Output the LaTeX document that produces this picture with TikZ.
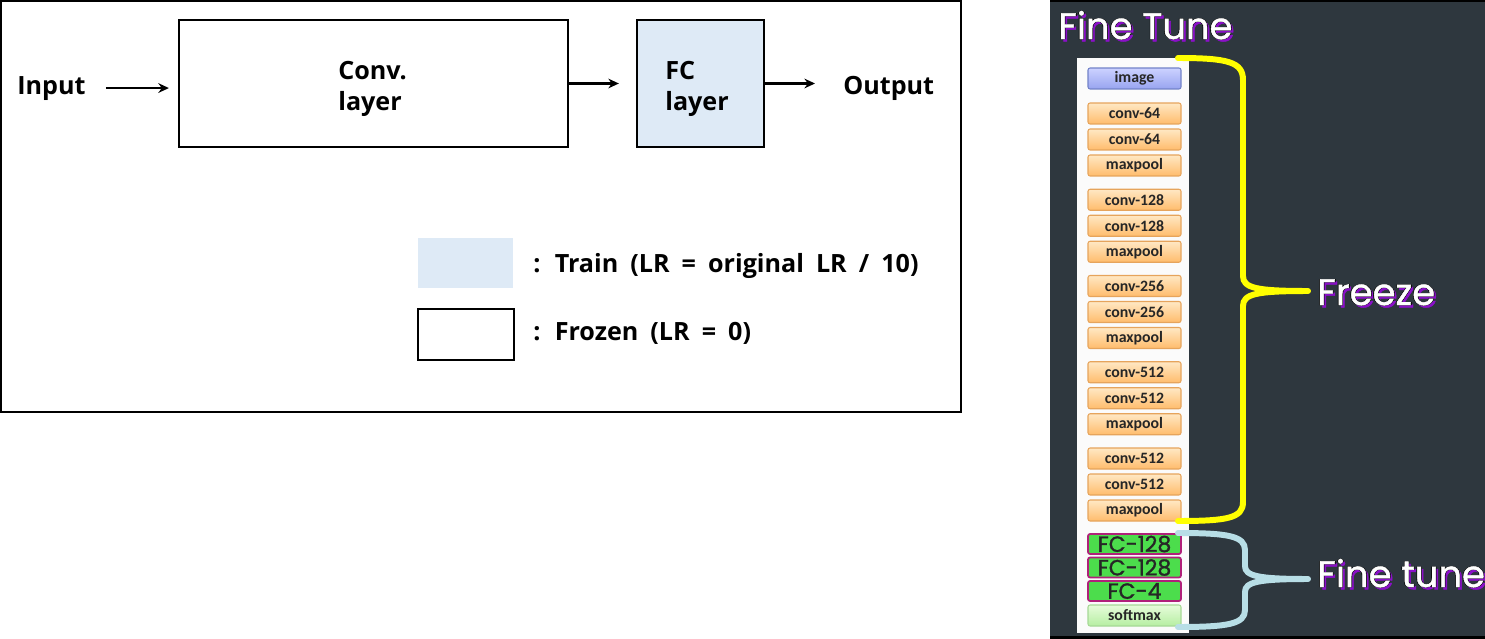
\documentclass[tikz,border=0pt]{standalone}
\usepackage{xcolor}
\usepackage{fontspec}
\setmainfont{Open Sans}[WordSpace=1.85]
\newfontfamily\gothicfont{Poppins}[FakeBold=1.2]
\newfontfamily\fcfont{Poppins}[FakeBold=1.4]
\newfontfamily\stackfont{Carlito}
\usepackage{tikz}
\usetikzlibrary{positioning, arrows.meta}

\definecolor{trainblue}{HTML}{DEEAF6}
\definecolor{panelgray}{HTML}{2E373E}
\definecolor{convtop}{HTML}{FFE8C4}
\definecolor{convbot}{HTML}{FFBC6C}
\definecolor{convedge}{HTML}{E6A45C}
\definecolor{imgtop}{HTML}{CCD2FF}
\definecolor{imgbot}{HTML}{98A4F0}
\definecolor{imgedge}{HTML}{7282C8}
\definecolor{fcgreen}{HTML}{4CDD4C}
\definecolor{fcedge}{HTML}{B0207A}
\definecolor{softtop}{HTML}{E6FCDA}
\definecolor{softbot}{HTML}{B6EEA2}
\definecolor{softedge}{HTML}{A6D896}
\definecolor{freezeyellow}{HTML}{FFFF00}
\definecolor{tuneblue}{HTML}{B8DEE6}
\definecolor{glowpurple}{HTML}{8A10C8}

\newcommand{\glowtext}[1]{%
  \rlap{\kern1.3pt\raisebox{-1.3pt}{\color{glowpurple}#1}}%
  \rlap{\kern-0.35pt\color{black}#1}\rlap{\kern0.35pt\color{black}#1}%
  {\color{white}#1}}

\begin{document}
\begin{tikzpicture}[
  x=0.02cm, y=-0.02cm,
  layer/.style={rectangle, draw, line width=1.3pt, inner sep=0pt},
  lbl/.style={font=\bfseries\fontsize{14.3}{17.6}\selectfont,
              inner sep=0pt, anchor=base west, align=left},
  flow/.style={-{Stealth[length=6pt,width=5.5pt]}, line width=1.5pt},
  stack/.style={rectangle, rounded corners=1.2pt, minimum width=1.86cm,
                minimum height=0.42cm, inner sep=0pt, line width=0.6pt,
                font=\stackfont\bfseries\fontsize{9}{10}\selectfont,
                text=black!85},
  convbox/.style={stack, draw=convedge, top color=convtop, bottom color=convbot},
  imgbox/.style={stack, draw=imgedge, top color=imgtop, bottom color=imgbot},
  fcbox/.style={stack, draw=fcedge, line width=1pt, fill=fcgreen,
                minimum height=0.4cm, text=black!85,
                font=\fcfont\fontsize{12.5}{13}\selectfont},
  softbox/.style={stack, draw=softedge, top color=softtop, bottom color=softbot},
  brace/.style={line width=3.4pt, line cap=round, line join=round},
  bigword/.style={font=\gothicfont\fontsize{21}{24}\selectfont,
                  inner sep=0pt, anchor=base west}
]
\useasboundingbox (0,0) rectangle (1485,639);

% left: transfer scheme
\draw[line width=1.3pt] (1,1) rectangle (961,412);
\node[layer, minimum width=7.78cm, minimum height=2.54cm] (conv) at (373.5,83.5) {};
\node[layer, fill=trainblue, minimum width=2.54cm, minimum height=2.54cm] (fc) at (700.5,83.5) {};
\node[lbl] (convtxt) at (338,110) {Conv.\\layer};
\node[lbl] (fctxt) at (665,110) {FC\\layer};
\node[lbl] (input) at (17,94) {Input};
\node[lbl] (output) at (843,94) {Output};

\draw[flow, shorten <=0.4cm, shorten >=0.18cm] (input.east) -- (input.east -| conv.west);
\draw[flow, shorten >=0.34cm] (conv.east) -- (fc.west);
\draw[flow, shorten >=0.56cm] (fc.east) -- (fc.east -| output.west);

\node[fill=trainblue, inner sep=0pt, minimum width=1.9cm, minimum height=1cm] (trainkey) at (465.5,263) {};
\node[draw, line width=0.7pt, inner sep=0pt, minimum width=1.92cm, minimum height=1.02cm] (frozenkey) at (466,334.5) {};
\node[lbl] (trainlbl) at (533,272) {: Train (LR = original LR / 10)};
\node[lbl] (frozenlbl) at (533,340) {: Frozen (LR = 0)};

% right: network stack
\fill[black] (1050,0) rectangle (1485,639);
\fill[panelgray] (1050,2.5) rectangle (1485,635.5);
\fill[white!97!gray] (1077,58) rectangle (1189,633);

\node[imgbox] (img) at (1134.5,78.5) {image};
\foreach \g/\ch in {0/64,1/128,2/256,3/512,4/512}{
  \node[convbox] (conv\g a) at (1134.5,{113.5+86.25*\g}) {conv-\ch};
  \node[convbox] (conv\g b) at (1134.5,{139.5+86.25*\g}) {conv-\ch};
  \node[convbox] (pool\g) at (1134.5,{165.5+86.25*\g}) {maxpool};
}
\node[fcbox] (fca) at (1134.5,544) {FC-128};
\node[fcbox] (fcb) at (1134.5,567.5) {FC-128};
\node[fcbox] (fcc) at (1134.5,591) {FC-4};
\node[softbox] (soft) at (1134.5,615.5) {softmax};

\coordinate (freezetip) at (1308,291);
\coordinate (tunetip) at (1308,579);
\draw[brace, freezeyellow] (1178,58) .. controls (1228,58) and (1243,62) .. (1243,80)
  -- (1243,276) .. controls (1243,288) and (1256,291) .. (freezetip)
  .. controls (1256,291) and (1243,294) .. (1243,306)
  -- (1243,502) .. controls (1243,518) and (1228,521) .. (1178,521);
\draw[brace, tuneblue] (1178,533) .. controls (1228,533) and (1245,536) .. (1245,550)
  -- (1245,566) .. controls (1245,576) and (1258,579) .. (tunetip)
  .. controls (1258,579) and (1245,582) .. (1245,592)
  -- (1245,610) .. controls (1245,624) and (1228,627) .. (1178,627);

\node[bigword] (title) at (1058,39) {\glowtext{Fine Tune}};
\node[bigword] (freezelbl) at (1317,305) {\glowtext{Freeze}};
\node[bigword] (tunelbl) at (1317,587) {\glowtext{Fine tune}};
\end{tikzpicture}
\end{document}
